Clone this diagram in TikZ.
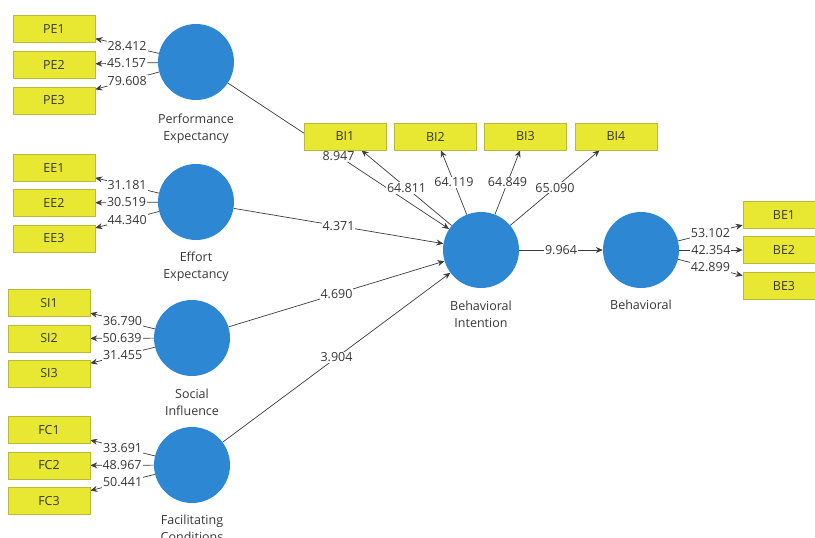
\documentclass[tikz,border=0pt]{standalone}
\usepackage{fontspec}
\setmainfont{Open Sans}
\usetikzlibrary{arrows.meta,backgrounds}
\definecolor{smblue}{RGB}{45,135,210}
\definecolor{smyellow}{RGB}{232,232,50}
\definecolor{smyellowd}{RGB}{185,185,60}
\definecolor{smtext}{RGB}{55,55,55}
\definecolor{smline}{RGB}{60,60,60}
\tikzset{
  latent/.style={circle,fill=smblue,minimum size=76pt,inner sep=0pt},
  indic/.style={rectangle,fill=smyellow,draw=smyellowd,line width=0.6pt,minimum width=82pt,minimum height=27pt,inner sep=0pt,text=smtext,font=\fontsize{12.5}{14}\selectfont},
  lvname/.style={align=center,text=smtext,font=\fontsize{12.5}{17}\selectfont,inner sep=0pt},
  conn/.style={draw=smline,line width=0.7pt,-{Stealth[length=7pt,width=6pt]}},
  val/.style={fill=white,inner sep=1pt,text=smtext,font=\fontsize{12.5}{14}\selectfont},
}
\begin{document}
\begin{tikzpicture}[x=1pt,y=-1pt]
\useasboundingbox (0,0) rectangle (815,538);
\clip (0,0) rectangle (815,538);
% latent variables
\node[latent] (PE) at (196,62) {};
\node[latent] (EE) at (196,202) {};
\node[latent] (SI) at (192,338) {};
\node[latent] (FC) at (192,465) {};
\node[latent] (BI) at (481,250) {};
\node[latent] (BH) at (641,250) {};
\node[lvname] (PEt) at (196,128.5) {Performance\\Expectancy};
\node[lvname] (EEt) at (196,267) {Effort\\Expectancy};
\node[lvname] (SIt) at (192,402) {Social\\Influence};
\node[lvname] (FCt) at (192,528.5) {Facilitating\\Conditions};
\node[lvname] (BIt) at (481,314.5) {Behavioral\\Intention};
\node[lvname] (BHt) at (641,305) {Behavioral};
% indicators
\node[indic] (PE1) at (54,29) {PE1};
\node[indic] (PE2) at (54,64.5) {PE2};
\node[indic] (PE3) at (54,100.5) {PE3};
\node[indic] (EE1) at (54,168) {EE1};
\node[indic] (EE2) at (54,203) {EE2};
\node[indic] (EE3) at (54,238.5) {EE3};
\node[indic] (SI1) at (49,303) {SI1};
\node[indic] (SI2) at (49,338.5) {SI2};
\node[indic] (SI3) at (49,373.5) {SI3};
\node[indic] (FC1) at (49,430) {FC1};
\node[indic] (FC2) at (49,465.5) {FC2};
\node[indic] (FC3) at (49,501) {FC3};
\node[indic] (BI1) at (345,136.5) {BI1};
\node[indic] (BI2) at (435.5,136.5) {BI2};
\node[indic] (BI3) at (525.5,136.5) {BI3};
\node[indic] (BI4) at (616,136.5) {BI4};
\node[indic] (BE1) at (784,215) {BE1};
\node[indic] (BE2) at (784,250) {BE2};
\node[indic] (BE3) at (784,286) {BE3};
% connectors behind nodes
\begin{scope}[on background layer]
\draw[conn] (PE) -- node[val]{8.947} (BI);
\draw[conn] (EE) -- node[val]{4.371} (BI);
\draw[conn] (SI) -- node[val]{4.690} (BI);
\draw[conn] (FC) -- node[val]{3.904} (BI);
\draw[conn] (BI) -- node[val]{9.964} (BH);
\draw[conn] (PE) -- node[val]{28.412} (PE1);
\draw[conn] (PE) -- node[val]{45.157} (PE2);
\draw[conn] (PE) -- node[val]{79.608} (PE3);
\draw[conn] (EE) -- node[val]{31.181} (EE1);
\draw[conn] (EE) -- node[val]{30.519} (EE2);
\draw[conn] (EE) -- node[val]{44.340} (EE3);
\draw[conn] (SI) -- node[val]{36.790} (SI1);
\draw[conn] (SI) -- node[val]{50.639} (SI2);
\draw[conn] (SI) -- node[val]{31.455} (SI3);
\draw[conn] (FC) -- node[val]{33.691} (FC1);
\draw[conn] (FC) -- node[val]{48.967} (FC2);
\draw[conn] (FC) -- node[val]{50.441} (FC3);
\draw[conn] (BI) -- node[val]{64.811} (BI1);
\draw[conn] (BI) -- node[val]{64.119} (BI2);
\draw[conn] (BI) -- node[val]{64.849} (BI3);
\draw[conn] (BI) -- node[val]{65.090} (BI4);
\draw[conn] (BH) -- node[val]{53.102} (BE1);
\draw[conn] (BH) -- node[val]{42.354} (BE2);
\draw[conn] (BH) -- node[val]{42.899} (BE3);
\end{scope}
\end{tikzpicture}
\end{document}
